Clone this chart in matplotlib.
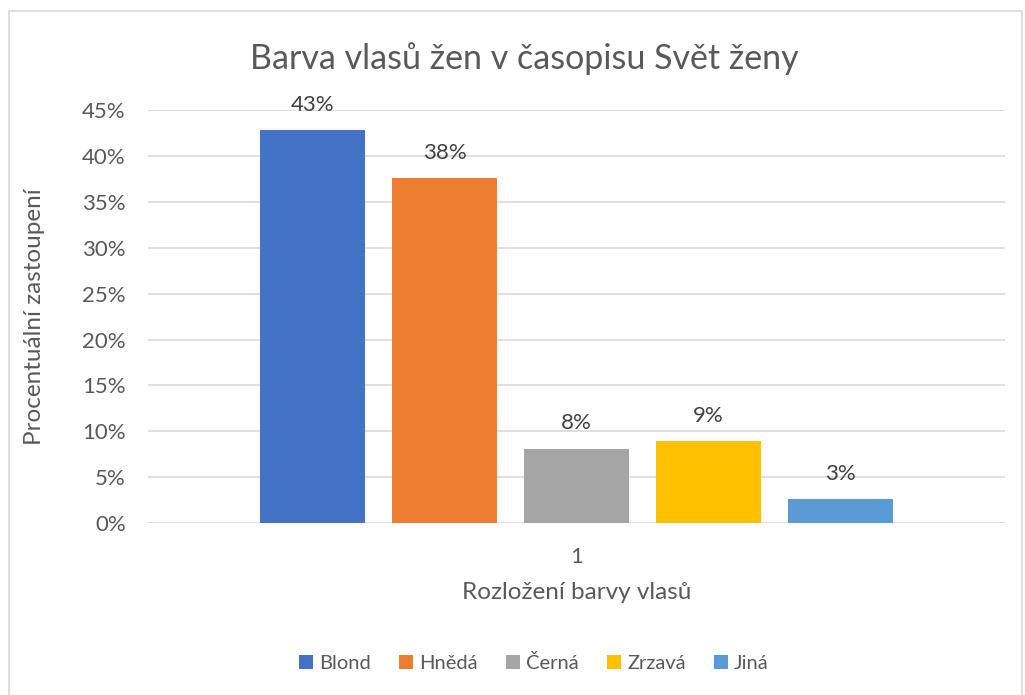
import numpy as np
import matplotlib
matplotlib.use('Agg')
import matplotlib.pyplot as plt
from matplotlib.patches import Rectangle
from matplotlib.ticker import FuncFormatter

# data
categories = ['Blond', 'Hnědá', 'Černá', 'Zrzavá', 'Jiná']
values = [0.428, 0.376, 0.081, 0.089, 0.026]
labels = ['43%', '38%', '8%', '9%', '3%']
colors = ['#4472C4', '#ED7D31', '#A5A5A5', '#FFC000', '#5B9BD5']

plt.rcParams['font.family'] = ['Lato', 'DejaVu Sans']
txt = '#595959'

fig = plt.figure(figsize=(10.25, 6.95), dpi=100)
fig.patches.append(Rectangle((0.009, -0.01), 0.988, 0.994, transform=fig.transFigure,
                             fill=False, edgecolor='#d9d9d9', linewidth=1.2))

ax = fig.add_axes([0.1444, 0.2475, 0.836, 0.594])
step = 0.154
width = 0.1225
for i, (cat, v, lab, c) in enumerate(zip(categories, values, labels, colors)):
    x = (i - 2) * step
    ax.bar(x, v, width=width, color=c, label=cat, zorder=3)
    ax.annotate(lab, (x, v), xytext=(0, 11), textcoords='offset points',
                ha='center', va='bottom', fontsize=16, color='#404040')

ax.set_xlim(-0.5, 0.5)
ax.set_ylim(0, 0.45)
ax.set_yticks(np.arange(0, 0.451, 0.05))
ax.yaxis.set_major_formatter(FuncFormatter(lambda v, p: f'{v*100:.0f}%'))
ax.set_xticks([0])
ax.set_xticklabels(['1'])
ax.tick_params(axis='both', length=0, labelsize=16, colors=txt)
ax.tick_params(axis='x', pad=17)
ax.tick_params(axis='y', pad=16)
ax.grid(axis='y', color='#d9d9d9', linewidth=1.2, zorder=0)
for s in ax.spines.values():
    s.set_visible(False)
ax.set_axisbelow(True)

ax.set_xlabel('Rozložení barvy vlasů', fontsize=17.5, color=txt, va='center')
ax.xaxis.set_label_coords(0.5, -0.169)
ax.set_ylabel('Procentuální zastoupení', fontsize=17.5, color=txt, va='center')
ax.yaxis.set_label_coords(-0.132, 0.5)
fig.text(0.512, 0.915, 'Barva vlasů žen v časopisu Svět ženy', ha='center', va='center',
         fontsize=24.5, color=txt)

leg = ax.legend(loc='center', bbox_to_anchor=(0.521, 0.046), bbox_transform=fig.transFigure,
                ncol=5, frameon=False, fontsize=14.5, handlelength=0.7, handleheight=0.7,
                handletextpad=0.3, columnspacing=1.4)
for t in leg.get_texts():
    t.set_color(txt)

fig.savefig('out.png', dpi=100)
